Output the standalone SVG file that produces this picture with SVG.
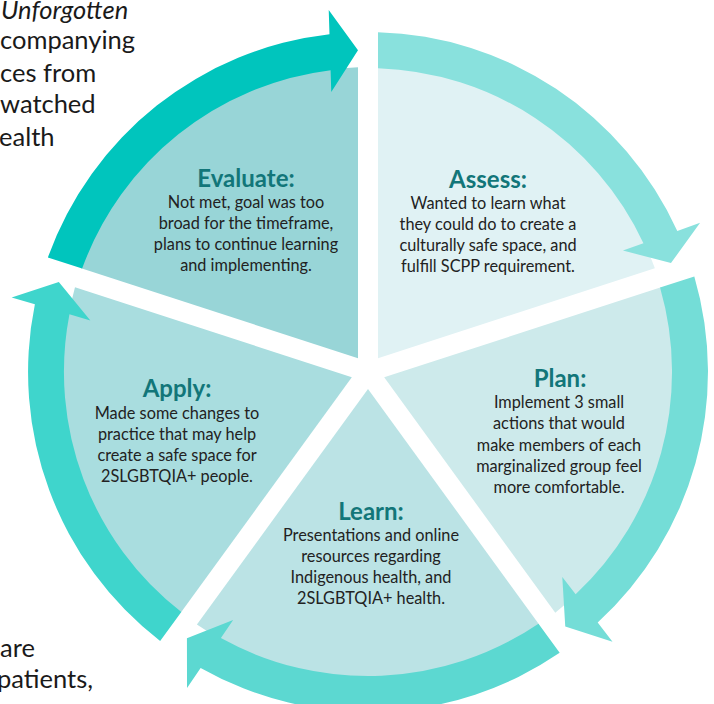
<svg xmlns="http://www.w3.org/2000/svg" xmlns:xlink="http://www.w3.org/1999/xlink" width="714" height="704" viewBox="0 0 714 704">
<style>
.title{font-family:Lato,"Noto Sans",sans-serif;font-weight:bold;font-size:24px;fill:#127679;text-anchor:middle}
.body{font-family:Lato,"Noto Sans",sans-serif;font-size:16.3px;fill:#222;text-anchor:middle}
.side{font-family:Lato,"Noto Sans",sans-serif;font-size:25.5px;fill:#1a1a1a}
</style>
<defs>
<path id="wedge" d="M10,-13.76 L10,-304.84 A305,305 0 0 1 286.83,-103.71 Z"/>
<path id="band" d="M10,-303.84 L10,-339.85 A340,340 0 0 1 309.32,-141.00 L332.10,-149.20 L302.99,-108.97 L254.94,-121.45 L275.44,-128.82 A304,304 0 0 0 10,-303.84 Z"/>
</defs>
<rect width="714" height="704" fill="#fff"/>
<g id="side-text">
<text class="side" x="1" y="19" font-style="italic">Unforgotten</text>
<text class="side" x="0" y="49">companying</text>
<text class="side" x="0" y="82">ces from</text>
<text class="side" x="0" y="113">watched</text>
<text class="side" x="-1" y="146">ealth</text>
<text class="side" x="0" y="657">are</text>
<text class="side" x="-3" y="688">patients,</text>
</g>
<g id="assess">
<use xlink:href="#wedge" transform="translate(368,372)" fill="#e0f2f4"/>
<use xlink:href="#band" transform="translate(368,372)" fill="#89e1dd"/>
<text class="title" x="488" y="188">Assess:</text>
<text class="body" x="488" y="209">Wanted to learn what</text>
<text class="body" x="488" y="230">they could do to create a</text>
<text class="body" x="488" y="251">culturally safe space, and</text>
<text class="body" x="488" y="272">fulfill SCPP requirement.</text>
</g>
<g id="plan">
<use xlink:href="#wedge" transform="translate(368,372) rotate(72)" fill="#cdeaeb"/>
<use xlink:href="#band" transform="translate(368,372) rotate(72)" fill="#74ddd7"/>
<text class="title" x="560" y="387">Plan:</text>
<text class="body" x="559" y="408">Implement 3 small</text>
<text class="body" x="559" y="429">actions that would</text>
<text class="body" x="559" y="451">make members of each</text>
<text class="body" x="559" y="472">marginalized group feel</text>
<text class="body" x="559" y="493">more comfortable.</text>
</g>
<g id="learn">
<use xlink:href="#wedge" transform="translate(368,372) rotate(144)" fill="#bbe3e5"/>
<use xlink:href="#band" transform="translate(368,372) rotate(144)" fill="#5cd8d1"/>
<text class="title" x="371" y="520">Learn:</text>
<text class="body" x="371" y="541">Presentations and online</text>
<text class="body" x="371" y="562">resources regarding</text>
<text class="body" x="371" y="583">Indigenous health, and</text>
<text class="body" x="371" y="604">2SLGBTQIA+ health.</text>
</g>
<g id="apply">
<use xlink:href="#wedge" transform="translate(368,372) rotate(216)" fill="#a9dddf"/>
<use xlink:href="#band" transform="translate(368,372) rotate(216)" fill="#3fd5cc"/>
<text class="title" x="177" y="397">Apply:</text>
<text class="body" x="177" y="419">Made some changes to</text>
<text class="body" x="177" y="440">practice that may help</text>
<text class="body" x="177" y="461">create a safe space for</text>
<text class="body" x="177" y="482">2SLGBTQIA+ people.</text>
</g>
<g id="evaluate">
<use xlink:href="#wedge" transform="translate(368,372) rotate(288)" fill="#98d5d7"/>
<use xlink:href="#band" transform="translate(368,372) rotate(288)" fill="#00c5bd"/>
<text class="title" x="246" y="187">Evaluate:</text>
<text class="body" x="246" y="208">Not met, goal was too</text>
<text class="body" x="246" y="229">broad for the timeframe,</text>
<text class="body" x="246" y="250">plans to continue learning</text>
<text class="body" x="246" y="271">and implementing.</text>
</g>
<g id="connectors"/>
</svg>
